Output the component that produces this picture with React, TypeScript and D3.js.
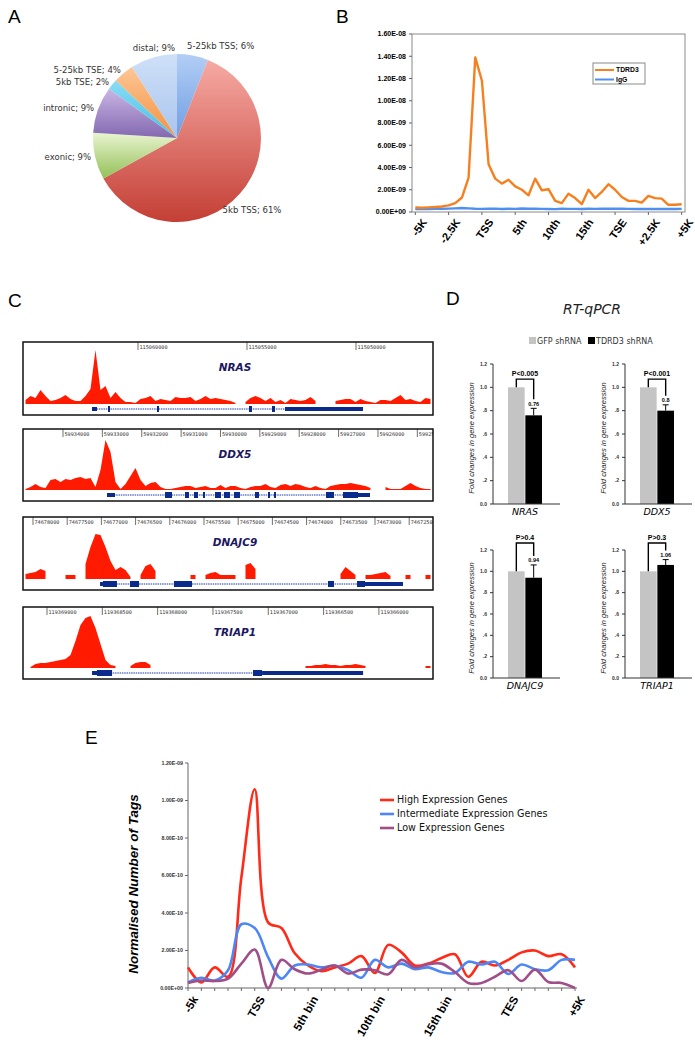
import React from "react";
import * as d3 from "d3";

// ---- panel A: peak distribution ----
const pieLabels = ["5-25kb TSS", "5kb TSS", "exonic", "intronic", "5kb TSE", "5-25kb TSE", "distal"];
const pieValues = [6, 61, 9, 9, 2, 4, 9];
const pieColors = [
  ["#b3cef5", "#6f9de2"],
  ["#f6aaa4", "#c43f35"],
  ["#e8f4cf", "#94c058"],
  ["#c9b6e4", "#8368b0"],
  ["#8adcf3", "#45bfe6"],
  ["#fcc696", "#f4913f"],
  ["#cfe0f8", "#a9c5ee"],
];

// ---- panel B: TDRD3 vs IgG profile (x1e-9) ----
const bTickLabels = ["-5K", "-2.5K", "TSS", "5th", "10th", "15th", "TSE", "+2.5K", "+5K"];
const bTdrd3 = [
  0.4, 0.38, 0.42, 0.45, 0.5, 0.6, 0.8, 1.3, 3.1, 13.9, 11.8, 4.3, 3.0, 2.55, 2.9, 2.3, 2.0, 1.5,
  3.0, 1.95, 2.05, 1.0, 0.8, 1.65, 1.25, 0.7, 2.0, 1.25, 1.8, 2.5, 2.0, 1.35, 1.0, 1.0, 0.85,
  1.45, 1.25, 1.2, 0.65, 0.65, 0.7,
];
const bIgG = [
  0.27, 0.26, 0.27, 0.28, 0.29, 0.3, 0.33, 0.36, 0.33, 0.29, 0.28, 0.29, 0.3, 0.27, 0.29, 0.28,
  0.32, 0.29, 0.3, 0.28, 0.27, 0.26, 0.29, 0.28, 0.28, 0.27, 0.29, 0.28, 0.3, 0.29, 0.3, 0.29,
  0.28, 0.27, 0.28, 0.27, 0.28, 0.27, 0.28, 0.27, 0.28,
];
const bSeries = ["TDRD3", "IgG"];

// ---- panel C: genome browser tracks ----
const nrasCoverage = [
  4, 8, 6, 14, 8, 3, 4, 6, 9, 5, 3, 3, 8, 15, 54, 14, 18, 6, 12, 6, 2, 2, 1, 5, 6, 8, 3, 5, 4, 3,
  7, 6, 6, 7, 3, 5, 8, 5, 6, 5, 4, 3, 1, null, 2, 6, 8, 6, 3, 6, 2, 4, 1, 5, 4, 3, 4, 7, 3, null,
  1, null, 3, 4, 5, 5, 2, 5, 3, 2, 1, 4, 4, 3, 6, 9, 4, 5, 3, 2, 6, 5,
];
const ddx5Coverage = [
  1, 3, 6, 3, 2, 10, 11, 8, 11, 10, 12, 13, 11, 12, 3, 20, 50, 38, 8, 1, 6, 14, 22, 10, 4, 7, 8,
  3, 1, 1, 2, 3, 4, 4, 2, 3, 4, 2, 2, 5, 2, 4, 4, 2, 1, 3, 4, 4, 6, 3, 2, 5, 6, 4, 6, 5, 3, 2, 4,
  2, 1, 4, 5, 6, 6, 7, 6, 5, 4, 2, null, null, 3, 1, 1, 1, 4, 7, 4, 2, 1, 1,
];
const dnajc9Coverage = [
  5, 6, 7, 10, 8, null, null, null, 4, 4, 4, null, 15, 32, 45, 44, 32, 18, 9, 12, 9, 2, null, 4,
  13, 15, 8, null, null, null, null, null, null, 4, 4, null, 4, 6, 7, 4, 4, 4, 4, null, 14, 16, 10,
  null, null, null, null, null, null, null, null, null, null, null, null, null, null, null, null,
  5, 12, 8, 4, null, 4, 4, 5, 6, 7, 3, null, null, 4, 4, null, null, 4, 4,
];
const triap1Coverage = [
  null, 1, 4, 5, 5, 6, 7, 8, 9, 13, 27, 43, 50, 52, 40, 24, 8, 3, 2, null, null, 2, 5, 6, 6, 3,
  null, null, null, null, null, null, null, null, null, null, null, null, null, null, null, null,
  null, null, null, null, null, null, null, null, null, null, null, null, null, null, 2, 2, 3, 3,
  4, 3, 3, 2, 3, 3, 4, 3, 2, null, null, null, null, null, null, null, null, null, null, null, 2, 2,
];
const trackNames = ["NRAS", "DDX5", "DNAJC9", "TRIAP1"];
const trackWindows = [
  [115065275, 115046468],
  [59935016, 59924602],
  [74678146, 74672152],
  [119369217, 119365511],
];
const trackRulers = [
  [115060000, 115055000, 115050000],
  [59934000, 59933000, 59932000, 59931000, 59930000, 59929000, 59928000, 59927000, 59926000, 59925000],
  [74678000, 74677500, 74677000, 74676500, 74676000, 74675500, 74675000, 74674500, 74674000, 74673500, 74673000, 74672500],
  [119369000, 119368500, 119368000, 119367500, 119367000, 119366500, 119366000],
];
const nrasExons: [number, number, string][] = [
  [115062110, 115061881, "utr"], [115061376, 115061284, "cds"], [115059128, 115059037, "cds"],
  [115054908, 115054771, "cds"], [115053853, 115053716, "cds"], [115053257, 115049679, "utr"],
];
const ddx5Exons: [number, number, string][] = [
  [59932882, 59932679, "utr"], [59931409, 59931231, "cds"], [59930901, 59930800, "cds"],
  [59930673, 59930571, "cds"], [59930444, 59930393, "cds"], [59930139, 59929987, "cds"],
  [59929911, 59929758, "cds"], [59929657, 59929504, "cds"], [59929123, 59929022, "cds"],
  [59928793, 59928742, "cds"], [59928641, 59928590, "cds"], [59927320, 59927117, "cds"],
  [59926888, 59926507, "cds"], [59926507, 59926202, "utr"],
];
const dnajc9Exons: [number, number, string][] = [
  [74677020, 74676977, "utr"], [74676977, 74676772, "cds"], [74676582, 74676450, "cds"],
  [74675939, 74675675, "cds"], [74673687, 74673599, "cds"], [74673263, 74673146, "cds"],
  [74673146, 74672591, "utr"],
];
const triap1Exons: [number, number, string][] = [
  [119368593, 119368548, "utr"], [119368548, 119368412, "cds"], [119367138, 119367056, "cds"],
  [119367056, 119366143, "utr"],
];
const trackCoverage = [nrasCoverage, ddx5Coverage, dnajc9Coverage, triap1Coverage];
const trackExons = [nrasExons, ddx5Exons, dnajc9Exons, triap1Exons];

// ---- panel D: RT-qPCR ----
const qpcrGenes = ["NRAS", "DDX5", "DNAJC9", "TRIAP1"];
const qpcrGroups = ["GFP shRNA", "TDRD3 shRNA"];
const gfpValues = [1, 1, 1, 1];
const tdrd3Values = [0.76, 0.8, 0.94, 1.06];
const tdrd3Errors = [0.06, 0.05, 0.12, 0.05];
const pValueLabels = ["P<0.005", "P<0.001", "P>0.4", "P>0.3"];
const qpcrTicks = [0, 0.2, 0.4, 0.6, 0.8, 1.0, 1.2];

// ---- panel E: expression groups (x1e-10) ----
const eTickLabels = ["-5k", "TSS", "5th bin", "10th bin", "15th bin", "TES", "+5K"];
const eTickIndex = [0, 5, 9, 14, 19, 24, 29];
const eHigh = [
  1.1, 0.3, 1.1, 0.6, 5.9, 10.6, 3.5, 3.2, 1.85, 1.2, 0.9, 1.1, 1.3, 1.7, 0.8, 2.3, 1.9, 1.2, 1.3,
  1.6, 1.8, 0.6, 1.4, 1.2, 1.5, 1.9, 2.0, 1.7, 1.8, 1.1,
];
const eInter = [
  0.3, 0.55, 0.4, 0.95, 3.4, 3.2, 1.65, 0.5, 1.2, 1.25, 1.1, 1.2, 0.95, 0.55, 1.5, 1.1, 1.3, 1.0,
  1.1, 0.85, 0.8, 1.4, 1.25, 1.4, 0.75, 1.25, 1.0, 0.95, 1.5, 1.5,
];
const eLow = [
  0.27, 0.4, 0.37, 0.5, 1.3, 2.05, 0.0, 1.5, 1.0, 0.77, 0.98, 1.2, 0.77, 0.98, 0.95, 0.73, 1.5,
  1.1, 1.27, 1.3, 0.85, 0.27, 0.27, 0.6, 0.95, 0.37, 0.98, 0.32, 0.27, 0.0,
];
const eSeriesNames = ["High Expression Genes", "Intermediate Expression Genes", "Low Expression Genes"];

const SANS = "Liberation Sans, Arial, sans-serif";
const VERD = "DejaVu Sans, Verdana, sans-serif";

const fmtSci = (v: number) => {
  const [m, e] = d3.format(".2e")(v).split("e");
  const sign = e[0] === "-" ? "-" : "+";
  return `${m}E${sign}${e.replace(/[+-]/, "").padStart(2, "0")}`;
};

function PanelLetter({ x, y, t }: { x: number; y: number; t: string }) {
  return (
    <text x={x} y={y} fontSize={19} fontFamily={SANS}>
      {t}
    </text>
  );
}

function PanelA() {
  const cx = 177, cy = 138, r = 84;
  const arcs = d3.pie<number>().sort(null).value((d) => d)(pieValues);
  const arc = d3.arc<d3.PieArcDatum<number>>().innerRadius(0).outerRadius(r);
  return (
    <g>
      <defs>
        {pieColors.map((c, i) => (
          <linearGradient key={i} id={`pg${i}`} x1={0} y1={0} x2={0} y2={1}>
            <stop offset="0" stopColor={c[0]} />
            <stop offset="1" stopColor={c[1]} />
          </linearGradient>
        ))}
      </defs>
      <PanelLetter x={8} y={23} t="A" />
      <g transform={`translate(${cx},${cy})`}>
        {arcs.map((a, i) => (
          <path key={i} d={arc(a) || ""} fill={`url(#pg${i})`} />
        ))}
      </g>
      {arcs.map((a, i) => {
        const mid = (a.startAngle + a.endAngle) / 2;
        const s = Math.sin(mid), c = Math.cos(mid);
        const text = `${pieLabels[i]}; ${pieValues[i]}%`;
        let x, y, anchor;
        if (pieValues[i] > 50) {
          x = cx + 100 * s; y = cy - 100 * c + 6; anchor = "middle";
        } else if (c > 0.9) {
          x = cx + (s > 0 ? 10 : -2); y = cy - 94 * c; anchor = s > 0 ? "start" : "end";
        } else {
          x = cx + 88 * s; y = cy - 88 * c; anchor = s > 0 ? "start" : "end";
        }
        return (
          <text key={i} x={x} y={y} dy="0.35em" textAnchor={anchor} fontSize={8.5} fontFamily={VERD} fill="#333">
            {text}
          </text>
        );
      })}
    </g>
  );
}

function PanelB() {
  const L = 412, R = 685, T = 34, B = 212;
  const x = d3.scalePoint<number>().domain(d3.range(bTdrd3.length)).range([L, R]).padding(0.5);
  const y = d3.scaleLinear().domain([0, 16]).range([B, T]);
  const line = d3.line<number>().x((_, i) => x(i) as number).y((d) => y(d));
  const ticks = d3.range(0, 17, 2);
  const colors = ["#f6801f", "#4f8fef"];
  return (
    <g fontFamily={SANS}>
      <PanelLetter x={336} y={23} t="B" />
      <rect x={L} y={T} width={R - L} height={B - T} fill="none" stroke="#8a8a8a" />
      {ticks.map((t) => (
        <g key={t}>
          <line x1={L - 3} x2={L} y1={y(t)} y2={y(t)} stroke="#666" />
          <text x={L - 6} y={y(t)} dy="0.35em" textAnchor="end" fontSize={7} fontWeight="bold">
            {fmtSci(t * 1e-9)}
          </text>
        </g>
      ))}
      {bTickLabels.map((lab, k) => {
        const xx = x(k * 5) as number;
        return (
          <g key={lab}>
            <line x1={xx} x2={xx} y1={B} y2={B + 3} stroke="#666" />
            <text transform={`translate(${xx + 9},${B + 8}) rotate(-55)`} textAnchor="end" dy="0.35em" fontSize={11} fontWeight="bold">
              {lab}
            </text>
          </g>
        );
      })}
      <path d={line(bIgG) || ""} fill="none" stroke={colors[1]} strokeWidth={2.4} />
      <path d={line(bTdrd3) || ""} fill="none" stroke={colors[0]} strokeWidth={2.4} strokeLinejoin="round" />
      <rect x={593} y={63} width={52} height={21} fill="#fff" stroke="#8a8a8a" />
      {bSeries.map((s, i) => (
        <g key={s}>
          <line x1={595} x2={614} y1={70 + i * 9.5} y2={70 + i * 9.5} stroke={colors[i]} strokeWidth={2} />
          <text x={616} y={70 + i * 9.5} dy="0.35em" fontSize={6.8} fontWeight="bold">
            {s}
          </text>
        </g>
      ))}
    </g>
  );
}

function Track({ i }: { i: number }) {
  const tops = [342, 429, 517, 607];
  const bottoms = [415, 501, 590, 679];
  const x0 = 23, x1 = 433;
  const top = tops[i], bottom = bottoms[i];
  const base = bottom - 11, geneY = bottom - 6;
  const cov = trackCoverage[i];
  const g = d3.scaleLinear().domain(trackWindows[i]).range([x0, x1]);
  const xb = d3.scaleLinear().domain([0, cov.length - 1]).range([x0 + 2.5, x1 - 2.5]);
  const h = d3.scaleLinear().domain([0, 60]).range([0, 60]);
  const area = d3
    .area<number | null>()
    .defined((d) => d != null)
    .x((_, k) => xb(k))
    .y0(base)
    .y1((d) => base - h(d as number));
  const exons = trackExons[i];
  const gs = d3.min(exons, (e) => Math.min(g(e[0]), g(e[1]))) as number;
  const ge = d3.max(exons, (e) => Math.max(g(e[0]), g(e[1]))) as number;
  return (
    <g>
      <clipPath id={`tc${i}`}>
        <rect x={x0} y={top} width={x1 - x0} height={bottom - top} />
      </clipPath>
      <g clipPath={`url(#tc${i})`}>
        {trackRulers[i].map((t) => (
          <g key={t}>
            <line x1={g(t)} x2={g(t)} y1={top} y2={top + 8} stroke="#333" strokeWidth={0.7} />
            <text x={g(t) + 1.5} y={top + 6.5} fontSize={5.2} fontFamily="DejaVu Sans Mono, monospace" fill="#333">
              {t}
            </text>
          </g>
        ))}
        <path d={area(cov) || ""} fill="#ff1a00" />
        <line x1={gs} x2={ge} y1={geneY} y2={geneY} stroke="#1a3aa8" strokeWidth={1} strokeDasharray="1.5 0.8" />
        {exons.map((e, k) => {
          const a = Math.min(g(e[0]), g(e[1])), b = Math.max(g(e[0]), g(e[1]));
          const hh = e[2] === "cds" ? 6 : 4;
          return <rect key={k} x={a} y={geneY - hh / 2} width={Math.max(1.5, b - a)} height={hh} fill="#0a2a8c" />;
        })}
      </g>
      <text x={235} y={top + 25} dy="0.35em" textAnchor="middle" fontSize={10.5} fontWeight="bold" fontStyle="italic" fontFamily={VERD} fill="#1b1760">
        {trackNames[i]}
      </text>
      <rect x={x0} y={top} width={x1 - x0} height={bottom - top} fill="none" stroke="#111" strokeWidth={1.5} />
    </g>
  );
}

function PanelC() {
  return (
    <g>
      <PanelLetter x={8} y={307} t="C" />
      {trackNames.map((_, i) => (
        <Track key={i} i={i} />
      ))}
    </g>
  );
}

function BarChart({ i }: { i: number }) {
  const layouts = [
    { ax: 493, y0: 504, y1: 364, bracket: 1.07 },
    { ax: 625, y0: 504, y1: 364, bracket: 1.07 },
    { ax: 493, y0: 678, y1: 550, bracket: 1.265 },
    { ax: 625, y0: 678, y1: 550, bracket: 1.265 },
  ];
  const L = layouts[i];
  const y = d3.scaleLinear().domain([0, 1.2]).range([L.y0, L.y1]);
  const xb = d3.scaleBand().domain(qpcrGroups).range([L.ax + 15, L.ax + 49]).paddingInner(0.04);
  const fmt = (v: number) => {
    const s = d3.format(".1f")(v);
    return v > 0 && v < 1 ? s.slice(1) : s;
  };
  const vals = [gfpValues[i], tdrd3Values[i]];
  const gx = (xb(qpcrGroups[0]) as number) + xb.bandwidth() / 2;
  const bx = (xb(qpcrGroups[1]) as number) + xb.bandwidth() / 2;
  const errTop = y(tdrd3Values[i] + tdrd3Errors[i]);
  const by = y(L.bracket);
  return (
    <g fontFamily={SANS}>
      {vals.map((v, k) => (
        <rect key={k} x={xb(qpcrGroups[k])} y={y(v)} width={xb.bandwidth()} height={L.y0 - y(v)} fill={k === 0 ? "#c4c4c4" : "#000"} />
      ))}
      <line x1={bx} x2={bx} y1={y(tdrd3Values[i])} y2={errTop} stroke="#000" strokeWidth={1} />
      <line x1={bx - 3} x2={bx + 3} y1={errTop} y2={errTop} stroke="#000" strokeWidth={1} />
      <text x={bx} y={errTop - 2.5} textAnchor="middle" fontSize={5.5} fontWeight="bold">
        {String(tdrd3Values[i])}
      </text>
      <path d={`M${gx},${y(gfpValues[i])}V${by}H${bx}V${errTop - 9}`} fill="none" stroke="#000" strokeWidth={1.4} />
      <text x={(gx + bx) / 2} y={by - 3} textAnchor="middle" fontSize={7} fontWeight="bold">
        {pValueLabels[i]}
      </text>
      <line x1={L.ax} x2={L.ax} y1={L.y0} y2={L.y1} stroke="#333" />
      <line x1={L.ax} x2={L.ax + 67} y1={L.y0} y2={L.y0} stroke="#333" />
      {qpcrTicks.map((t) => (
        <g key={t}>
          <line x1={L.ax - 3} x2={L.ax} y1={y(t)} y2={y(t)} stroke="#333" />
          <text x={L.ax - 6} y={y(t)} dy="0.35em" textAnchor="end" fontSize={5} fontWeight="bold" fill="#333">
            {fmt(t)}
          </text>
        </g>
      ))}
      <text transform={`translate(${L.ax - 19},${(L.y0 + L.y1) / 2 + 4}) rotate(-90)`} textAnchor="middle" fontSize={7.6} fontStyle="italic" fill="#222">
        Fold changes in gene expression
      </text>
      <text x={L.ax + 32} y={L.y0 + 11} textAnchor="middle" fontSize={9.5} fontStyle="italic" fontFamily={VERD}>
        {qpcrGenes[i]}
      </text>
    </g>
  );
}

function PanelD() {
  return (
    <g>
      <PanelLetter x={446} y={305} t="D" />
      <text x={592} y={314} textAnchor="middle" fontSize={14} fontStyle="italic" fontFamily={VERD} fill="#222">
        RT-qPCR
      </text>
      {qpcrGroups.map((gname, k) => (
        <g key={gname}>
          <rect x={529 + k * 59} y={337} width={7} height={7} fill={k === 0 ? "#c4c4c4" : "#000"} />
          <text x={537 + k * 59} y={341} dy="0.35em" fontSize={8} fontFamily={VERD} fill="#333">
            {gname}
          </text>
        </g>
      ))}
      {qpcrGenes.map((_, i) => (
        <BarChart key={i} i={i} />
      ))}
    </g>
  );
}

function PanelE() {
  const L = 188, R = 575, T = 763, B = 988;
  const x = d3.scalePoint<number>().domain(d3.range(eHigh.length)).range([L, R]);
  const y = d3.scaleLinear().domain([0, 12]).range([B, T]);
  const line = d3.line<number>().x((_, i) => x(i) as number).y((d) => y(d)).curve(d3.curveCatmullRom.alpha(0.5));
  const colors = ["#ff2a17", "#4d86f5", "#a04e88"];
  const series = [eHigh, eInter, eLow];
  return (
    <g fontFamily={SANS}>
      <PanelLetter x={85} y={744} t="E" />
      <line x1={L} x2={L} y1={T} y2={B} stroke="#666" />
      <line x1={L} x2={R + 2} y1={B} y2={B} stroke="#666" />
      {d3.range(0, 13, 2).map((t) => (
        <g key={t}>
          <line x1={L - 3} x2={L} y1={y(t)} y2={y(t)} stroke="#666" />
          <text x={L - 5} y={y(t)} dy="0.35em" textAnchor="end" fontSize={5.3} fontWeight="bold" fill="#333">
            {fmtSci(t * 1e-10)}
          </text>
        </g>
      ))}
      {eHigh.map((_, k) => (
        <line key={k} x1={x(k)} x2={x(k)} y1={B} y2={B + 3} stroke="#666" />
      ))}
      {eTickLabels.map((lab, k) => {
        const xx = x(eTickIndex[k]) as number;
        return (
          <text key={lab} transform={`translate(${xx + 7},${B + 9}) rotate(-60)`} textAnchor="end" dy="0.35em" fontSize={11.5} fontWeight="bold">
            {lab}
          </text>
        );
      })}
      <text transform={`translate(138,884) rotate(-90)`} textAnchor="middle" fontSize={13.5} fontWeight="bold" fontStyle="italic">
        Normalised Number of Tags
      </text>
      {series.map((s, k) => (
        <path key={k} d={line(s) || ""} fill="none" stroke={colors[k]} strokeWidth={2.6} />
      ))}
      {eSeriesNames.map((n, k) => (
        <g key={n}>
          <line x1={380} x2={394} y1={800 + k * 14} y2={800 + k * 14} stroke={colors[k]} strokeWidth={2.6} />
          <text x={397} y={800 + k * 14} dy="0.35em" fontSize={9.6} fontFamily={VERD} fill="#111">
            {n}
          </text>
        </g>
      ))}
    </g>
  );
}

export default function App() {
  return (
    <svg width={695} height={1050} style={{ position: "absolute", left: 0, top: 0, background: "#fff" }}>
      <PanelA />
      <PanelB />
      <PanelC />
      <PanelD />
      <PanelE />
    </svg>
  );
}
